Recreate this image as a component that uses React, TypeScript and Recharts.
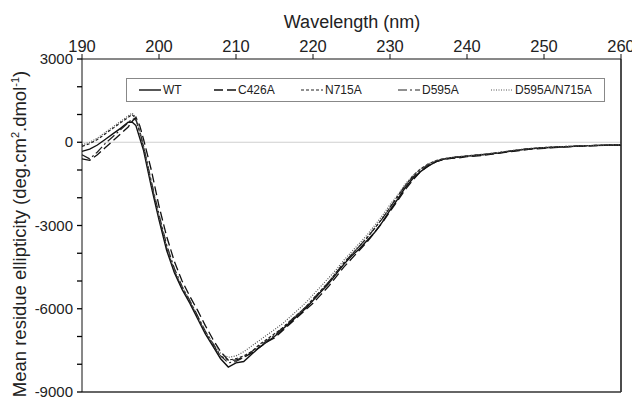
import React from 'react';
import { LineChart, Line, XAxis, YAxis, ReferenceLine } from 'recharts';

// wavelength (nm)
const WAVELENGTH = [
  190, 191, 192, 193, 194, 195, 196, 196.5, 197, 197.5, 198, 199, 200, 201, 202, 203, 204, 205, 206, 207,
  208, 209, 210, 211, 212, 213, 214, 215, 216, 217, 218, 219, 220, 221, 222, 223, 224, 225, 226, 227,
  228, 229, 230, 231, 232, 233, 234, 235, 236, 237, 238, 239, 240, 242, 244, 246, 248, 250, 252, 254,
  256, 258, 260,
];

// mean residue ellipticity per variant
const WT = [
  -330, -250, -100, 100, 300, 500, 720, 730, 600, 150, -300, -1600, -2800, -3900, -4700, -5300, -5800, -6350, -6900, -7350,
  -7800, -8100, -7950, -7900, -7650, -7400, -7200, -7000, -6750, -6500, -6250, -6000, -5700, -5400, -5100, -4750, -4400, -4100, -3850, -3550,
  -3250, -2880, -2450, -2050, -1630, -1300, -1050, -850, -700, -610, -560, -530, -500, -450, -390, -310, -240, -200, -170, -150,
  -120, -110, -100,
];
const C426A = [
  -600, -650, -450, -200, 50, 300, 550, 750, 900, 600, 100, -1000, -2300, -3400, -4300, -5000, -5550, -6050, -6600, -7100,
  -7550, -7850, -7850, -7750, -7600, -7400, -7200, -7050, -6800, -6550, -6300, -6050, -5800, -5500, -5200, -4850, -4500, -4200, -3900, -3600,
  -3250, -2900, -2500, -2100, -1700, -1350, -1050, -850, -700, -620, -580, -560, -520, -480, -400, -330, -260, -220, -180, -150,
  -130, -110, -100,
];
const N715A = [
  -150, -50, 100, 300, 500, 700, 900, 1000, 850, 350, -200, -1500, -2700, -3800, -4650, -5250, -5750, -6300, -6850, -7300,
  -7700, -7850, -7800, -7700, -7550, -7300, -7100, -6900, -6700, -6450, -6200, -5950, -5650, -5350, -5050, -4700, -4350, -4050, -3750, -3450,
  -3100, -2750, -2350, -1950, -1550, -1200, -950, -780, -660, -590, -550, -520, -490, -440, -380, -300, -230, -190, -160, -140,
  -120, -100, -90,
];
const D595A = [
  -450, -600, -350, -50, 200, 450, 700, 850, 800, 400, -150, -1400, -2600, -3700, -4550, -5200, -5700, -6250, -6800, -7250,
  -7700, -7950, -7900, -7750, -7550, -7350, -7150, -6950, -6700, -6450, -6200, -5950, -5650, -5350, -5050, -4700, -4350, -4050, -3750, -3450,
  -3100, -2750, -2350, -1950, -1550, -1250, -1000, -800, -680, -600, -560, -530, -500, -450, -380, -300, -240, -200, -170, -140,
  -120, -110, -100,
];
const D595A_N715A = [
  -100, 0, 150, 350, 550, 750, 950, 1050, 900, 400, -150, -1450, -2650, -3750, -4600, -5200, -5700, -6250, -6800, -7250,
  -7600, -7750, -7700, -7550, -7350, -7150, -6950, -6750, -6550, -6300, -6050, -5800, -5500, -5200, -4900, -4600, -4250, -3950, -3650, -3350,
  -3000, -2650, -2250, -1900, -1500, -1200, -950, -780, -660, -590, -550, -520, -490, -440, -370, -290, -230, -190, -160, -140,
  -120, -100, -90,
];

const SERIES_NAMES = ['WT', 'C426A', 'N715A', 'D595A', 'D595A/N715A'];
const X_TICKS = [190, 200, 210, 220, 230, 240, 250, 260];
const Y_TICKS = [-9000, -8000, -7000, -6000, -5000, -4000, -3000, -2000, -1000, 0, 1000, 2000, 3000];

const data = WAVELENGTH.map((wl, i) => ({
  wl,
  wt: WT[i],
  c426a: C426A[i],
  n715a: N715A[i],
  d595a: D595A[i],
  dn: D595A_N715A[i],
}));

const FONT = '"Liberation Sans", Arial, sans-serif';

const STYLES = [
  { key: 'wt', dash: undefined, color: '#111', width: 1.4 },
  { key: 'c426a', dash: '9 4', color: '#111', width: 1.3 },
  { key: 'n715a', dash: '3 2', color: '#222', width: 1.2 },
  { key: 'd595a', dash: '9 3 2 3', color: '#222', width: 1.2 },
  { key: 'dn', dash: '1 1.5', color: '#555', width: 1.2 },
];

// legend item offsets inside the box
const LEGEND_X = [12, 87, 174, 271, 364];

// y tick: every 1000 gets a mark, every 3000 a label
const YTick = ({ x, y, payload }: any) => {
  const v = payload.value;
  return (
    <g>
      <line x1={x + 4} y1={y} x2={x + 9} y2={y} stroke="#000" strokeWidth={1.3} />
      {v % 3000 === 0 && (
        <text x={x} y={y} dy={5} textAnchor="end" fontSize={15} fill="#222" fontFamily={FONT}>
          {v}
        </text>
      )}
    </g>
  );
};

const Legendbox = () => (
  <div
    style={{
      position: 'absolute', left: 126, top: 78, width: 477, height: 22,
      border: '1px solid #888', background: '#fff', fontFamily: FONT, fontSize: 12, color: '#222',
    }}
  >
    {SERIES_NAMES.map((name, i) => (
      <div key={name} style={{ position: 'absolute', left: LEGEND_X[i], top: 3, display: 'flex', alignItems: 'center', height: 16 }}>
        <svg width={22} height={6}>
          <line x1={0} y1={3} x2={22} y2={3} stroke={STYLES[i].color} strokeWidth={STYLES[i].width} strokeDasharray={STYLES[i].dash} />
        </svg>
        <span style={{ marginLeft: 2 }}>{name}</span>
      </div>
    ))}
  </div>
);

export default function App() {
  return (
    <div style={{ position: 'absolute', left: 0, top: 0, width: 632, height: 401, background: '#fff' }}>
      <LineChart width={632} height={401} data={data} margin={{ top: 0, right: 11, bottom: 9, left: 0 }}>
        <XAxis
          dataKey="wl"
          type="number"
          orientation="top"
          domain={[190, 260]}
          ticks={X_TICKS}
          interval={0}
          height={59}
          tickSize={5}
          tickMargin={2}
          stroke="#111"
          tick={{ fontSize: 16.5, fill: '#222', fontFamily: FONT }}
        />
        <YAxis
          type="number"
          domain={[-9000, 3000]}
          ticks={Y_TICKS}
          width={82}
          tickSize={5}
          tickMargin={4}
          tickLine={false}
          stroke="#111"
          interval={0}
          tick={<YTick />}
        />
        <ReferenceLine y={0} stroke="#cfcfcf" strokeWidth={1} />
        <ReferenceLine x={260} stroke="#111" strokeWidth={1.5} />
        <ReferenceLine y={-9000} stroke="#333" strokeWidth={1.5} />
        {STYLES.map((s) => (
          <Line
            key={s.key}
            type="linear"
            dataKey={s.key}
            stroke={s.color}
            strokeWidth={s.width}
            strokeDasharray={s.dash}
            dot={false}
            isAnimationActive={false}
          />
        ))}
      </LineChart>
      <Legendbox />
      <div
        style={{
          position: 'absolute', left: 252, top: 11, width: 200, textAlign: 'center',
          fontFamily: FONT, fontSize: 18, color: '#222', lineHeight: '22px',
        }}
      >
        Wavelength (nm)
      </div>
      <div
        style={{
          position: 'absolute', left: 15 - 190, top: 234 - 12, width: 380, height: 24, lineHeight: '24px',
          textAlign: 'center', transform: 'rotate(-90deg)', fontFamily: FONT, fontSize: 18.5, color: '#222', whiteSpace: 'nowrap',
        }}
      >
        Mean residue ellipticity (deg.cm<sup style={{ fontSize: 11 }}>2</sup>.dmol<sup style={{ fontSize: 11 }}>-1</sup>)
      </div>
    </div>
  );
}
